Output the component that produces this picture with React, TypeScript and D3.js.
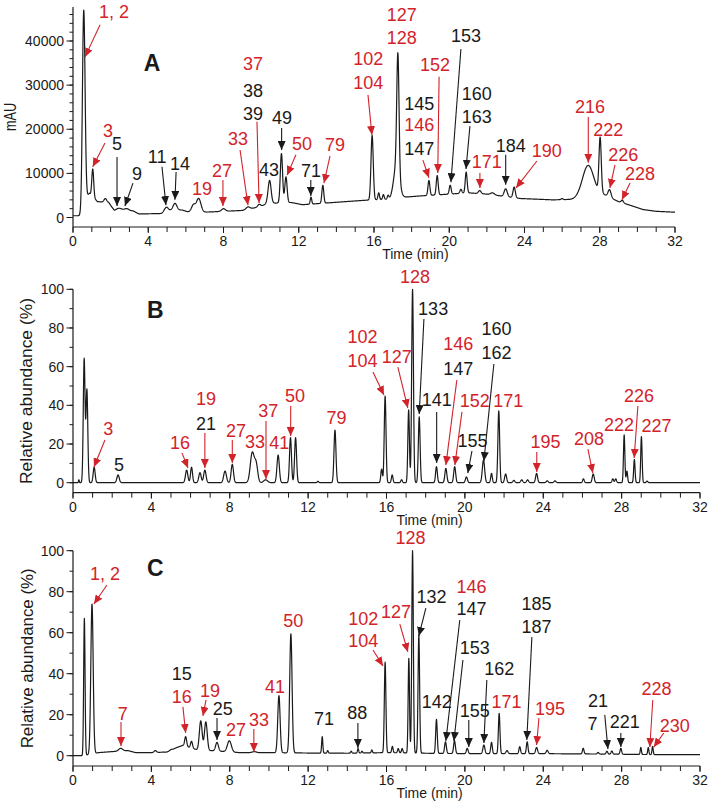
import * as d3 from "d3";

// time axis (min)
const timeMajor = [0, 4, 8, 12, 16, 20, 24, 28, 32];
const timeMinor = d3.range(0, 33, 1);

// ---- panel A (UV, mAU) ----
// baseline points [time, mAU]
const baseA: [number, number][] = [
  [0, 400], [0.45, 400], [0.62, 4000], [0.87, 5500], [1.3, 3600], [1.9, 3400], [2.2, 1500],
  [3.2, 1500], [3.5, 800], [4.7, 900], [5.0, 1600], [5.8, 1700], [6.1, 1300], [6.9, 1200],
  [7.5, 1300], [9.0, 1600], [10.0, 2500], [10.3, 3200], [11.6, 3400], [12.2, 2900], [13.5, 3300],
  [14.5, 3600], [15.5, 3900], [16.9, 4200], [17.6, 4600], [18.5, 4900], [20.0, 5300], [21.0, 5600],
  [22.0, 5300], [23.8, 4300], [25.5, 4000], [26.5, 4100], [28.2, 5200], [29.0, 3600], [29.6, 2800],
  [30.3, 1800], [31.0, 1400], [32, 1200],
];
// peaks [time, apex, width]
const peaksA: [number, number, number][] = [
  [0.57, 47000, 0.07], [1.05, 11000, 0.05], [1.72, 4300, 0.07], [2.45, 2100, 0.15], [2.85, 2000, 0.12],
  [4.95, 2300, 0.1], [5.42, 3200, 0.1], [6.4, 2800, 0.1], [6.68, 4300, 0.12], [8.0, 2000, 0.1],
  [9.3, 2400, 0.1], [9.9, 3000, 0.08], [10.45, 8400, 0.08], [11.08, 14500, 0.06], [11.32, 9200, 0.06],
  [12.65, 4600, 0.04], [13.28, 7300, 0.05], [15.9, 18600, 0.06], [16.25, 5600, 0.04], [16.5, 5200, 0.04],
  [16.75, 5000, 0.04], [17.2, 12000, 0.15], [17.27, 30500, 0.06], [18.92, 8400, 0.05], [19.36, 9500, 0.05],
  [20.05, 7300, 0.05], [20.62, 6400, 0.05], [20.9, 10300, 0.05], [21.62, 6100, 0.07], [22.3, 5600, 0.1],
  [23.0, 6500, 0.08], [23.45, 6900, 0.06], [26.0, 4300, 0.05], [27.38, 11800, 0.3], [28.02, 17500, 0.06],
  [28.52, 6300, 0.08], [29.2, 3900, 0.06],
];
// labels [time, value, text, colour]
const labelsA: [number, number, string, string][] = [
  [2.18, 45200, "1, 2", "r"], [1.86, 18300, "3", "r"], [2.34, 15300, "5", "k"], [3.4, 8500, "9", "k"],
  [4.47, 12400, "11", "k"], [5.69, 10800, "14", "k"], [6.86, 5100, "19", "r"], [7.92, 9200, "27", "r"],
  [8.77, 16400, "33", "r"], [9.57, 33400, "37", "r"], [9.57, 27300, "38", "k"], [9.57, 22100, "39", "k"],
  [10.42, 9400, "43", "k"], [11.11, 21200, "49", "k"], [12.17, 15300, "50", "r"], [12.65, 9200, "71", "k"],
  [13.93, 15100, "79", "r"], [15.7, 34600, "102", "r"], [15.7, 29100, "104", "r"], [17.47, 44600, "127", "r"],
  [17.47, 39300, "128", "r"], [18.41, 24400, "145", "k"], [18.41, 19500, "146", "r"], [18.41, 14200, "147", "k"],
  [19.24, 33200, "152", "r"], [20.89, 39700, "153", "k"], [21.46, 26600, "160", "k"], [21.46, 21500, "163", "k"],
  [21.99, 11200, "171", "r"], [23.27, 14900, "184", "k"], [25.18, 13800, "190", "r"], [27.48, 23600, "216", "r"],
  [28.45, 18500, "222", "r"], [29.25, 12900, "226", "r"], [30.14, 8500, "228", "r"],
];
// arrows [t1, v1, t2, v2, colour]
const arrowsA: [number, number, number, number, string][] = [
  [1.44, 43700, 0.64, 36400, "r"], [1.7, 16900, 1.05, 11500, "r"], [2.34, 13700, 2.34, 2600, "k"],
  [3.19, 7800, 2.76, 2600, "k"], [4.73, 11500, 4.94, 2800, "k"], [5.48, 10300, 5.42, 4000, "k"],
  [7.97, 8500, 7.97, 2600, "r"], [8.88, 15300, 9.3, 2800, "r"], [9.78, 21700, 9.89, 3300, "r"],
  [11.09, 20300, 11.09, 15300, "k"], [11.85, 14200, 11.38, 9600, "r"], [12.64, 8500, 12.64, 4900, "k"],
  [13.66, 13900, 13.34, 7800, "r"], [15.68, 27800, 15.89, 18700, "r"], [18.6, 13000, 18.92, 9000, "r"],
  [19.46, 31900, 19.39, 10100, "r"], [20.62, 38200, 20.09, 8000, "k"], [21.1, 20700, 20.89, 11000, "k"],
  [21.63, 10100, 21.63, 6700, "r"], [23.0, 14200, 23.0, 7400, "k"], [24.66, 12800, 23.55, 6700, "r"],
  [27.39, 22800, 27.39, 12400, "r"], [28.81, 11900, 28.54, 6700, "r"], [29.61, 7800, 29.18, 4000, "r"],
];

// ---- panel B (relative abundance, %) ----
const baseB: [number, number][] = [[0, 0], [32, 0]];
const peaksB: [number, number, number][] = [
  [0.3, 1.5, 0.02], [0.57, 64, 0.045], [0.71, 48, 0.045], [1.08, 8, 0.05], [2.3, 4, 0.06],
  [5.8, 6.5, 0.06], [6.05, 8, 0.05], [6.48, 5.2, 0.06], [6.73, 6.5, 0.06], [7.76, 6, 0.07],
  [8.13, 9.5, 0.06], [9.15, 15.5, 0.1], [9.35, 9, 0.08], [9.83, 1.5, 0.1], [10.47, 14.3, 0.06],
  [11.1, 23.3, 0.05], [11.36, 23.3, 0.05], [12.5, 0.7, 0.04], [13.37, 27.2, 0.05], [15.75, 7, 0.04],
  [15.93, 44.8, 0.045], [16.29, 4, 0.04], [16.77, 1.5, 0.04], [17.13, 37.6, 0.04], [17.33, 100, 0.045],
  [17.67, 34, 0.045], [18.55, 8.3, 0.045], [19.03, 7.4, 0.05], [19.48, 8.3, 0.05], [20.08, 3, 0.05],
  [20.95, 11.7, 0.06], [21.36, 4.8, 0.04], [21.73, 37.2, 0.045], [22.08, 4.5, 0.05], [22.5, 1.2, 0.05],
  [22.9, 1.5, 0.05], [23.2, 1.5, 0.05], [23.66, 4.8, 0.05], [24.2, 1, 0.05], [24.6, 1, 0.05],
  [26.05, 2, 0.04], [26.55, 4.5, 0.05], [27.55, 2, 0.04], [27.7, 2, 0.04], [28.13, 24.7, 0.035],
  [28.27, 6, 0.035], [28.65, 12, 0.035], [29.01, 23.8, 0.035], [29.3, 0.8, 0.04],
];
const labelsB: [number, number, string, string][] = [
  [1.8, 24.7, "3", "r"], [2.35, 6.2, "5", "k"], [5.46, 17.3, "16", "r"], [6.79, 40.2, "19", "r"],
  [6.79, 27.2, "21", "k"], [8.32, 23.8, "27", "r"], [9.29, 17.8, "33", "r"], [9.96, 34.1, "37", "r"],
  [10.53, 17.3, "41", "r"], [11.33, 41.9, "50", "r"], [13.45, 30.4, "79", "r"], [14.78, 72.4, "102", "r"],
  [14.78, 60.0, "104", "r"], [16.52, 61.7, "127", "r"], [17.45, 103.1, "128", "r"], [18.38, 86.7, "133", "k"],
  [18.56, 39.8, "141", "k"], [19.66, 68.6, "146", "r"], [19.66, 55.7, "147", "k"], [20.51, 39.3, "152", "r"],
  [20.39, 18.6, "155", "k"], [21.62, 76.4, "160", "k"], [21.62, 64.0, "162", "k"], [22.21, 39.3, "171", "r"],
  [24.12, 17.8, "195", "r"], [26.34, 19.5, "208", "r"], [27.87, 26.9, "222", "r"], [28.89, 41.9, "226", "r"],
  [29.78, 26.4, "227", "r"],
];
const arrowsB: [number, number, number, number, string][] = [
  [1.63, 22.1, 1.07, 8.1, "r"], [5.56, 15.4, 5.87, 7.6, "r"], [6.73, 25.7, 6.73, 7.6, "r"],
  [8.13, 22.1, 8.13, 10.2, "r"], [9.85, 31.9, 9.85, 1.9, "r"], [11.11, 39.7, 11.11, 24.1, "r"],
  [15.31, 57.2, 15.87, 45.3, "r"], [16.58, 59.8, 17.09, 38.6, "r"], [17.91, 84.6, 17.67, 35.5, "k"],
  [18.56, 36.6, 18.56, 10.2, "k"], [19.59, 53.1, 19.03, 9.1, "r"], [19.85, 36.6, 19.49, 9.1, "r"],
  [20.36, 16.4, 20.15, 5.0, "k"], [21.48, 61.4, 20.97, 11.2, "k"], [23.67, 15.9, 23.67, 5.5, "r"],
  [26.28, 17.4, 26.53, 5.0, "r"], [28.83, 39.7, 28.64, 12.8, "r"],
];

// ---- panel C (relative abundance, %) ----
const baseC: [number, number][] = [
  [0, 0], [0.5, 0], [1.3, 1.5], [2.0, 2], [2.8, 2.5], [3.2, 1.5], [4.0, 1.5], [4.8, 1.8], [5.3, 4],
  [5.6, 5], [6.3, 3], [7.0, 2.5], [8.5, 1.5], [10, 1.5], [12, 1.3], [14, 1.2], [16, 1.5], [18, 1.2],
  [20, 1], [24, 1], [27, 0.8], [30, 0.5], [32, 0.5],
];
const peaksC: [number, number, number][] = [
  [0.58, 67, 0.035], [0.97, 74, 0.06], [2.43, 3.6, 0.1], [4.2, 2.5, 0.06], [5.0, 3, 0.06],
  [5.75, 9.3, 0.05], [6.05, 7, 0.05], [6.52, 17, 0.07], [6.78, 16.5, 0.07], [7.35, 6.5, 0.07],
  [7.98, 7.3, 0.1], [9.25, 2, 0.1], [10.51, 29.3, 0.06], [11.12, 59.4, 0.06], [12.72, 9.3, 0.03],
  [13.0, 2.5, 0.03], [14.2, 2.2, 0.03], [14.55, 3.5, 0.03], [14.75, 2.2, 0.03], [15.25, 2.8, 0.03],
  [15.93, 45.6, 0.04], [16.3, 4.5, 0.035], [16.6, 3.5, 0.035], [16.8, 3.5, 0.035], [17.14, 47.5, 0.035],
  [17.33, 100, 0.04], [17.65, 58.9, 0.04], [18.55, 17.7, 0.04], [19.01, 6.8, 0.045], [19.47, 7.3, 0.045],
  [20.12, 3.6, 0.045], [20.97, 5.2, 0.05], [21.36, 6.5, 0.04], [21.75, 20.7, 0.04], [22.15, 2.5, 0.05],
  [22.8, 4.4, 0.04], [23.18, 6.8, 0.04], [23.66, 4, 0.05], [24.2, 2.6, 0.05], [26.04, 3.6, 0.04],
  [26.8, 1.6, 0.04], [27.25, 2.2, 0.04], [27.5, 2.3, 0.04], [27.96, 3.6, 0.04], [28.98, 4, 0.03],
  [29.36, 4, 0.03], [29.58, 4.5, 0.03],
];
const labelsC: [number, number, string, string][] = [
  [1.63, 85.7, "1, 2", "r"], [2.54, 17.4, "7", "r"], [5.55, 36.9, "15", "k"], [5.55, 25.6, "16", "r"],
  [6.99, 28.8, "19", "r"], [7.64, 19.9, "25", "k"], [8.32, 9.6, "27", "r"], [9.49, 14.5, "33", "r"],
  [10.31, 30.4, "41", "r"], [11.24, 62.9, "50", "r"], [12.81, 15.0, "71", "k"], [14.51, 17.8, "88", "k"],
  [14.81, 63.8, "102", "r"], [14.81, 52.9, "104", "r"], [16.48, 67.0, "127", "r"], [17.23, 103.3, "128", "r"],
  [18.3, 74.3, "132", "k"], [18.56, 23.1, "142", "k"], [20.34, 79.5, "146", "r"], [20.34, 68.6, "147", "k"],
  [20.51, 49.6, "153", "k"], [20.51, 19.0, "155", "k"], [21.75, 39.4, "162", "k"], [22.13, 23.1, "171", "r"],
  [23.66, 71.1, "185", "k"], [23.66, 59.7, "187", "k"], [24.34, 19.9, "195", "r"], [26.8, 23.9, "21", "k"],
  [26.52, 12.5, "7", "k"], [28.16, 13.4, "221", "k"], [29.78, 29.6, "228", "r"], [30.71, 11.7, "230", "r"],
];
const arrowsC: [number, number, number, number, string][] = [
  [1.73, 83.3, 1.07, 74.0, "r"], [2.45, 16.4, 2.45, 4.7, "r"], [5.61, 23.8, 5.75, 11.1, "r"],
  [6.79, 27.2, 6.63, 19.4, "r"], [7.35, 18.4, 7.35, 7.7, "k"], [9.23, 13.0, 9.23, 1.8, "r"],
  [14.54, 16.0, 14.54, 3.8, "k"], [15.31, 51.6, 15.82, 43.8, "r"], [16.68, 64.2, 17.09, 50.6, "r"],
  [18.01, 72.0, 17.65, 58.4, "k"], [19.74, 66.2, 19.03, 7.2, "k"], [19.9, 46.7, 19.44, 7.2, "k"],
  [20.2, 17.4, 20.2, 4.2, "k"], [21.12, 36.9, 20.97, 6.2, "k"], [23.42, 57.9, 23.16, 7.7, "k"],
  [23.78, 18.4, 23.66, 5.2, "r"], [27.14, 19.9, 27.3, 3.3, "k"], [27.96, 11.1, 27.96, 4.2, "k"],
  [29.59, 27.2, 29.44, 4.2, "r"], [30.15, 11.1, 29.64, 4.2, "r"],
];

const RED = "#d2232a";
const INK = "#1a1a1a";
const FONT = "'Liberation Sans', Arial, sans-serif";
const col = (c: string) => (c === "r" ? RED : INK);

function trace(base: [number, number][], peaks: [number, number, number][]) {
  const bl = d3.scaleLinear().domain(base.map(d => d[0])).range(base.map(d => d[1])).clamp(true);
  const pk = peaks.map(([t0, apex, s]) => [t0, apex - bl(t0), s]);
  return d3.range(0, 32.0001, 0.01).map(t => {
    let v = bl(t);
    for (const [t0, h, s] of pk) {
      const d = t - t0;
      if (Math.abs(d) < 8 * s) v += h * Math.exp(-(d * d) / (2 * s * s));
    }
    return [t, v] as [number, number];
  });
}

type PanelProps = {
  letter: string; letterY: number;
  xr: [number, number]; yDomain: [number, number]; yRange: [number, number];
  axisY: number; yTop: number; major: number[]; minor: number[];
  ylabel: string; ylabelX: number; ylabelLen: number;
  base: [number, number][]; peaks: [number, number, number][];
  labels: [number, number, string, string][]; arrows: [number, number, number, number, string][];
};

function Panel(p: PanelProps) {
  const x = d3.scaleLinear().domain([0, 32]).range(p.xr);
  const y = d3.scaleLinear().domain(p.yDomain).range(p.yRange);
  const line = d3.line<[number, number]>().x(d => x(d[0])).y(d => y(d[1]));
  const data = trace(p.base, p.peaks);
  const x0 = x(0);
  const top = y(p.yTop);
  const ymid = (top + p.axisY) / 2;
  return (
    <g>
      <path d={line(data) || ""} fill="none" stroke={INK} strokeWidth={1.2} strokeLinejoin="round" />
      {/* axes */}
      <line x1={x0} x2={x0} y1={top} y2={p.axisY} stroke={INK} strokeWidth={1.2} />
      <line x1={x0} x2={x(32)} y1={p.axisY} y2={p.axisY} stroke={INK} strokeWidth={1.2} />
      {p.minor.map(v => (
        <line key={"ym" + v} x1={x0 - 3.5} x2={x0} y1={y(v)} y2={y(v)} stroke={INK} strokeWidth={1} />
      ))}
      {p.major.map(v => (
        <g key={"yM" + v}>
          <line x1={x0 - 6.5} x2={x0} y1={y(v)} y2={y(v)} stroke={INK} strokeWidth={1} />
          <text x={x0 - 9} y={y(v) + 5} textAnchor="end" fontSize={14} fontFamily={FONT} fill={INK}>{v}</text>
        </g>
      ))}
      {timeMinor.map(t => (
        <line key={"xm" + t} x1={x(t)} x2={x(t)} y1={p.axisY} y2={p.axisY + 5} stroke={INK} strokeWidth={1} />
      ))}
      {timeMajor.map(t => (
        <g key={"xM" + t}>
          <line x1={x(t)} x2={x(t)} y1={p.axisY} y2={p.axisY + 6} stroke={INK} strokeWidth={1} />
          <text x={x(t)} y={p.axisY + 19} textAnchor="middle" fontSize={14} fontFamily={FONT} fill={INK}>{t}</text>
        </g>
      ))}
      <text x={x(18.2)} y={p.axisY + 32} textAnchor="middle" fontSize={14} fontFamily={FONT} fill={INK}>Time (min)</text>
      <text transform={`translate(${p.ylabelX},${ymid}) rotate(-90)`} textAnchor="middle" fontSize={16}
        fontFamily={FONT} fill={INK} textLength={p.ylabelLen} lengthAdjust="spacingAndGlyphs">{p.ylabel}</text>
      <text x={x(4.2)} y={p.letterY} textAnchor="middle" fontSize={23} fontWeight="bold" fontFamily={FONT} fill={INK}>{p.letter}</text>
      {/* annotations */}
      {p.arrows.map(([t1, v1, t2, v2, c], i) => (
        <line key={"a" + i} x1={x(t1)} y1={y(v1)} x2={x(t2)} y2={y(v2)} stroke={col(c)} strokeWidth={1.1}
          markerEnd={`url(#head-${c})`} />
      ))}
      {p.labels.map(([t, v, s, c], i) => (
        <text key={"l" + i} x={x(t)} y={y(v)} textAnchor="middle" fontSize={18} fontFamily={FONT} fill={col(c)}>{s}</text>
      ))}
    </g>
  );
}

export default function App() {
  return (
    <svg width={710} height={807} style={{ position: "absolute", left: 0, top: 0, background: "#fff" }}>
      <defs>
        {["r", "k"].map(c => (
          <marker key={c} id={`head-${c}`} markerUnits="userSpaceOnUse" markerWidth={9} markerHeight={8}
            refX={9} refY={4} orient="auto">
            <path d="M0,0 L9,4 L0,8 Z" fill={col(c)} />
          </marker>
        ))}
      </defs>
      <rect width={710} height={807} fill="#fff" />
      <Panel letter="A" letterY={71} xr={[73, 675]} yDomain={[0, 40000]} yRange={[217.5, 41]} axisY={227}
        yTop={47700} major={d3.range(0, 40001, 10000)} minor={d3.range(0, 46001, 2000)}
        ylabel="mAU" ylabelX={16} ylabelLen={28} base={baseA} peaks={peaksA} labels={labelsA} arrows={arrowsA} />
      <Panel letter="B" letterY={318} xr={[73, 700]} yDomain={[0, 100]} yRange={[482.7, 289.3]} axisY={492.7}
        yTop={100} major={d3.range(0, 101, 20)} minor={d3.range(0, 101, 10)}
        ylabel="Relative abundance (%)" ylabelX={32} ylabelLen={186} base={baseB} peaks={peaksB} labels={labelsB} arrows={arrowsB} />
      <Panel letter="C" letterY={576} xr={[73, 700]} yDomain={[0, 100]} yRange={[755.7, 550.7]} axisY={766}
        yTop={100} major={d3.range(0, 101, 20)} minor={d3.range(0, 101, 10)}
        ylabel="Relative abundance (%)" ylabelX={33} ylabelLen={180} base={baseC} peaks={peaksC} labels={labelsC} arrows={arrowsC} />
    </svg>
  );
}
